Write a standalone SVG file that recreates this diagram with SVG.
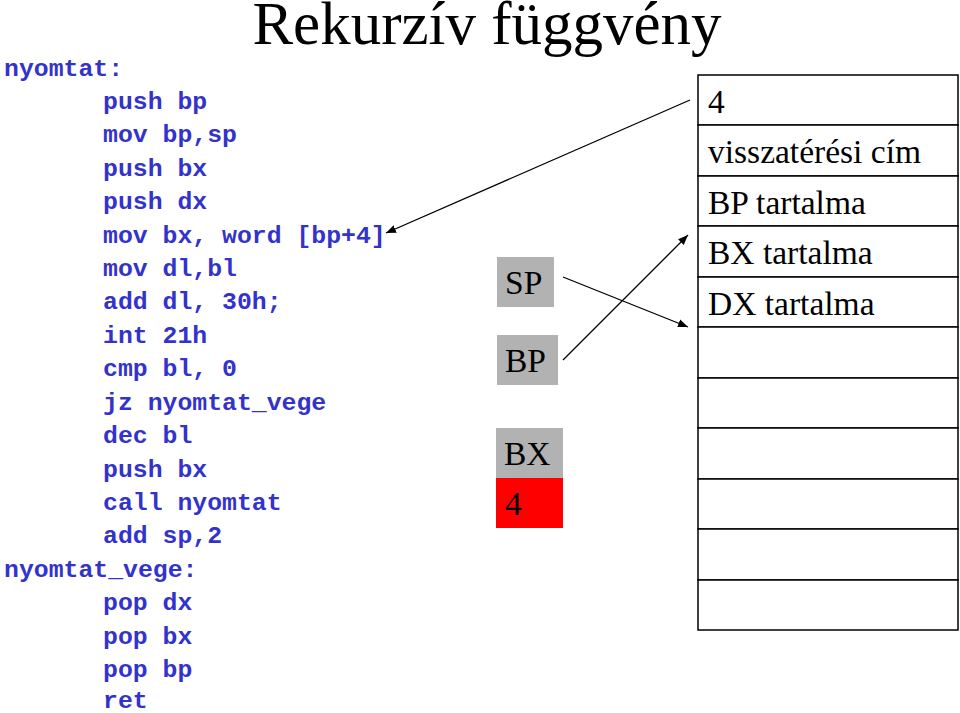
<svg xmlns="http://www.w3.org/2000/svg" width="960" height="713" viewBox="0 0 960 713">
<defs>
<style>
.c{font-family:"Liberation Mono",monospace;font-size:24.8px;font-weight:bold;fill:#3333cc}
.t{font-family:"Liberation Serif",serif;font-size:33.5px;fill:#000}
.cell{fill:#fff;stroke:#000;stroke-width:1.5}
.ln{stroke:#000;stroke-width:1.3;fill:none;marker-end:url(#a)}
</style>
<marker id="a" viewBox="0 0 10 10" refX="10" refY="5" markerWidth="10" markerHeight="10" markerUnits="userSpaceOnUse" orient="auto"><path d="M0,1 L10,5 L0,9 z" fill="#000"/></marker>
</defs>
<rect width="960" height="713" fill="#fff"/>
<text x="487" y="44" text-anchor="middle" style="font-family:'Liberation Serif',serif;font-size:61px">Rekurzív függvény</text>
<g id="code">
<text class="c" x="4" y="76">nyomtat:</text>
<text class="c" x="103" y="109">push bp</text>
<text class="c" x="103" y="142">mov bp,sp</text>
<text class="c" x="103" y="176">push bx</text>
<text class="c" x="103" y="209">push dx</text>
<text class="c" x="103" y="243">mov bx, word [bp+4]</text>
<text class="c" x="103" y="276">mov dl,bl</text>
<text class="c" x="103" y="309">add dl, 30h;</text>
<text class="c" x="103" y="343">int 21h</text>
<text class="c" x="103" y="376">cmp bl, 0</text>
<text class="c" x="103" y="410">jz nyomtat_vege</text>
<text class="c" x="103" y="443">dec bl</text>
<text class="c" x="103" y="477">push bx</text>
<text class="c" x="103" y="510">call nyomtat</text>
<text class="c" x="103" y="543">add sp,2</text>
<text class="c" x="4" y="577">nyomtat_vege:</text>
<text class="c" x="103" y="610">pop dx</text>
<text class="c" x="103" y="644">pop bx</text>
<text class="c" x="103" y="677">pop bp</text>
<text class="c" x="103" y="708">ret</text>
</g>
<g id="sp"><rect x="497" y="257" width="57" height="50" fill="#b2b2b2"/><text class="t" x="505" y="294">SP</text></g>
<g id="bp"><rect x="497" y="335" width="61" height="50" fill="#b2b2b2"/><text class="t" x="505" y="372">BP</text></g>
<g id="bx"><rect x="496" y="428" width="67" height="50" fill="#b2b2b2"/><text class="t" x="504" y="465">BX</text></g>
<g id="val"><rect x="496" y="478" width="67" height="50" fill="#ff0000"/><text class="t" x="505" y="515">4</text></g>
<g id="stack">
<rect class="cell" x="698" y="75" width="260" height="50"/>
<rect class="cell" x="698" y="125" width="260" height="51"/>
<rect class="cell" x="698" y="176" width="260" height="50"/>
<rect class="cell" x="698" y="226" width="260" height="51"/>
<rect class="cell" x="698" y="277" width="260" height="50"/>
<rect class="cell" x="698" y="327" width="260" height="51"/>
<rect class="cell" x="698" y="378" width="260" height="50"/>
<rect class="cell" x="698" y="428" width="260" height="51"/>
<rect class="cell" x="698" y="479" width="260" height="50"/>
<rect class="cell" x="698" y="529" width="260" height="51"/>
<rect class="cell" x="698" y="580" width="260" height="50"/>
<text class="t" x="708" y="113">4</text>
<text class="t" x="708" y="163">visszatérési cím</text>
<text class="t" x="708" y="214">BP tartalma</text>
<text class="t" x="708" y="264">BX tartalma</text>
<text class="t" x="708" y="315">DX tartalma</text>
</g>
<g id="connectors">
<line class="ln" x1="690" y1="100" x2="386" y2="233"/>
<line class="ln" x1="563" y1="277" x2="688" y2="327"/>
<line class="ln" x1="563" y1="360" x2="688" y2="235"/>
</g>
</svg>
